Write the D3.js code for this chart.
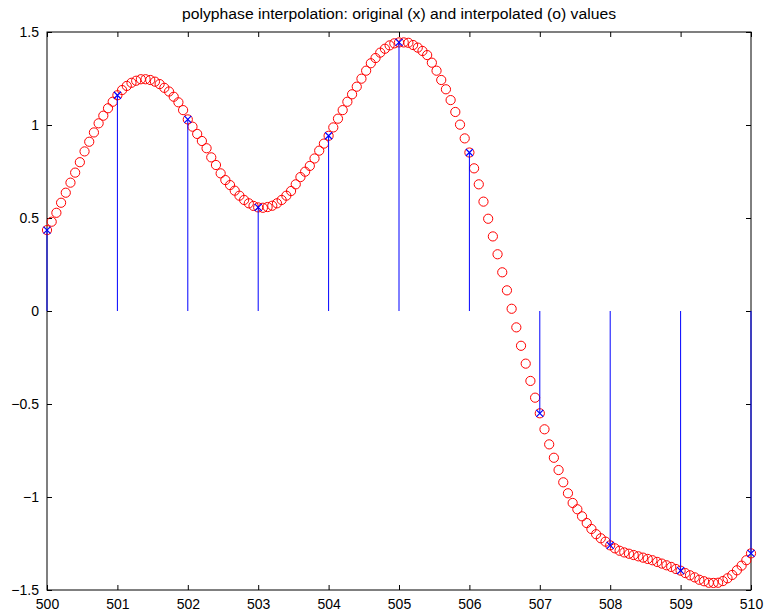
<!DOCTYPE html>
<html>
<head>
<meta charset="utf-8">
<script src="https://cdn.jsdelivr.net/npm/d3@7"></script>
<style>
body { margin: 0; background: #fff; }
text { font-family: "Liberation Sans", Arial, sans-serif; }
</style>
</head>
<body>
<div id="vis"></div>
<script>
// original samples (x markers + stems)
var origX = [500, 501, 502, 503, 504, 505, 506, 507, 508, 509, 510];
var origY = [0.435, 1.16, 1.03, 0.557, 0.942, 1.444, 0.852, -0.55, -1.26, -1.396, -1.303];

// interpolated samples, 15 per unit step
var interpStep = 15;
var interpY = [
  0.435, 0.48, 0.528, 0.582, 0.636, 0.69, 0.744, 0.80, 0.858, 0.91, 0.96, 1.009, 1.05, 1.09, 1.125,
  1.16, 1.188, 1.21, 1.227, 1.238, 1.246, 1.246, 1.242, 1.233, 1.22, 1.2, 1.18, 1.152, 1.122, 1.08,
  1.03, 0.991, 0.952, 0.914, 0.875, 0.826, 0.785, 0.74, 0.704, 0.677, 0.647, 0.62, 0.597, 0.579, 0.565,
  0.557, 0.555, 0.559, 0.566, 0.579, 0.597, 0.62, 0.645, 0.681, 0.72, 0.749, 0.78, 0.82, 0.862, 0.90,
  0.942, 0.987, 1.034, 1.08, 1.125, 1.165, 1.206, 1.249, 1.292, 1.332, 1.36, 1.389, 1.41, 1.428, 1.439,
  1.444, 1.444, 1.442, 1.43, 1.416, 1.398, 1.376, 1.335, 1.292, 1.242, 1.192, 1.134, 1.07, 1.002, 0.928,
  0.852, 0.767, 0.681, 0.588, 0.496, 0.401, 0.305, 0.208, 0.111, 0.012, -0.088, -0.187, -0.283, -0.376, -0.466,
  -0.55, -0.636, -0.717, -0.789, -0.855, -0.921, -0.98, -1.032, -1.066, -1.104, -1.14, -1.172, -1.2, -1.222, -1.24,
  -1.26, -1.276, -1.289, -1.298, -1.305, -1.312, -1.319, -1.326, -1.333, -1.34, -1.349, -1.358, -1.367, -1.376, -1.387,
  -1.396, -1.409, -1.421, -1.432, -1.445, -1.453, -1.461, -1.462, -1.461, -1.452, -1.437, -1.419, -1.394, -1.369, -1.34,
  -1.303
];

var xTicks = [500, 501, 502, 503, 504, 505, 506, 507, 508, 509, 510];
var yTicks = [-1.5, -1, -0.5, 0, 0.5, 1, 1.5];
var title = "polyphase interpolation: original (x) and interpolated (o) values";

var w = 766;
var h = 613;
var margin = {top: 32, right: 15, bottom: 23, left: 47};
var width = w - margin.left - margin.right;
var height = h - margin.top - margin.bottom;

var svg = d3.select("#vis")
  .append("svg")
  .attr("width", w)
  .attr("height", h);

var x = d3.scaleLinear().domain([500, 510]).range([0, width]);
var y = d3.scaleLinear().domain([-1.5, 1.5]).range([height, 0]);

var main = svg.append("g")
  .attr("transform", `translate(${margin.left}, ${margin.top})`);

var fmt = d => String(d).replace("-", "\u2212");

// axes, MATLAB style: ticks inside on all four sides
function styleAxis(g) {
  g.select(".domain").remove();
  g.selectAll("line").attr("stroke", "#000");
  g.selectAll("text").attr("fill", "#000").style("font-size", "14px");
}

main.append("g")
  .attr("transform", `translate(0, ${height})`)
  .call(d3.axisBottom(x).tickValues(xTicks).tickFormat(d3.format("d")).tickSizeInner(-5).tickPadding(9))
  .call(styleAxis);

main.append("g")
  .call(d3.axisTop(x).tickValues(xTicks).tickSizeInner(-5).tickFormat(""))
  .call(styleAxis);

main.append("g")
  .call(d3.axisLeft(y).tickValues(yTicks).tickFormat(fmt).tickSizeInner(-5).tickPadding(8))
  .call(styleAxis);

main.append("g")
  .attr("transform", `translate(${width}, 0)`)
  .call(d3.axisRight(y).tickValues(yTicks).tickSizeInner(-5).tickFormat(""))
  .call(styleAxis);

main.append("rect")
  .attr("width", width)
  .attr("height", height)
  .attr("fill", "none")
  .attr("stroke", "#000")
  .attr("stroke-width", 1);

// interpolated (o)
main.selectAll("circle.interp")
  .data(interpY)
  .enter()
  .append("circle")
  .attr("class", "interp")
  .attr("cx", (d, i) => x(500 + i / interpStep))
  .attr("cy", d => y(d))
  .attr("r", 4.6)
  .attr("fill", "none")
  .attr("stroke", "#ff0000")
  .attr("stroke-width", 1);

// stems
main.selectAll("line.stem")
  .data(origY)
  .enter()
  .append("line")
  .attr("class", "stem")
  .attr("x1", (d, i) => x(origX[i]))
  .attr("x2", (d, i) => x(origX[i]))
  .attr("y1", y(0))
  .attr("y2", d => y(d))
  .attr("stroke", "#0000ff")
  .attr("stroke-width", 1);

// original (x)
var xm = main.selectAll("g.orig")
  .data(origY)
  .enter()
  .append("g")
  .attr("class", "orig")
  .attr("transform", (d, i) => `translate(${x(origX[i])}, ${y(d)})`);

xm.append("path")
  .attr("d", "M-3.5,-3.5L3.5,3.5M-3.5,3.5L3.5,-3.5")
  .attr("stroke", "#0000ff")
  .attr("stroke-width", 1.2)
  .attr("fill", "none");

svg.append("text")
  .attr("x", margin.left + width / 2)
  .attr("y", 19)
  .attr("text-anchor", "middle")
  .attr("textLength", 434)
  .attr("lengthAdjust", "spacingAndGlyphs")
  .style("font-size", "14px")
  .text(title);
</script>
</body>
</html>
